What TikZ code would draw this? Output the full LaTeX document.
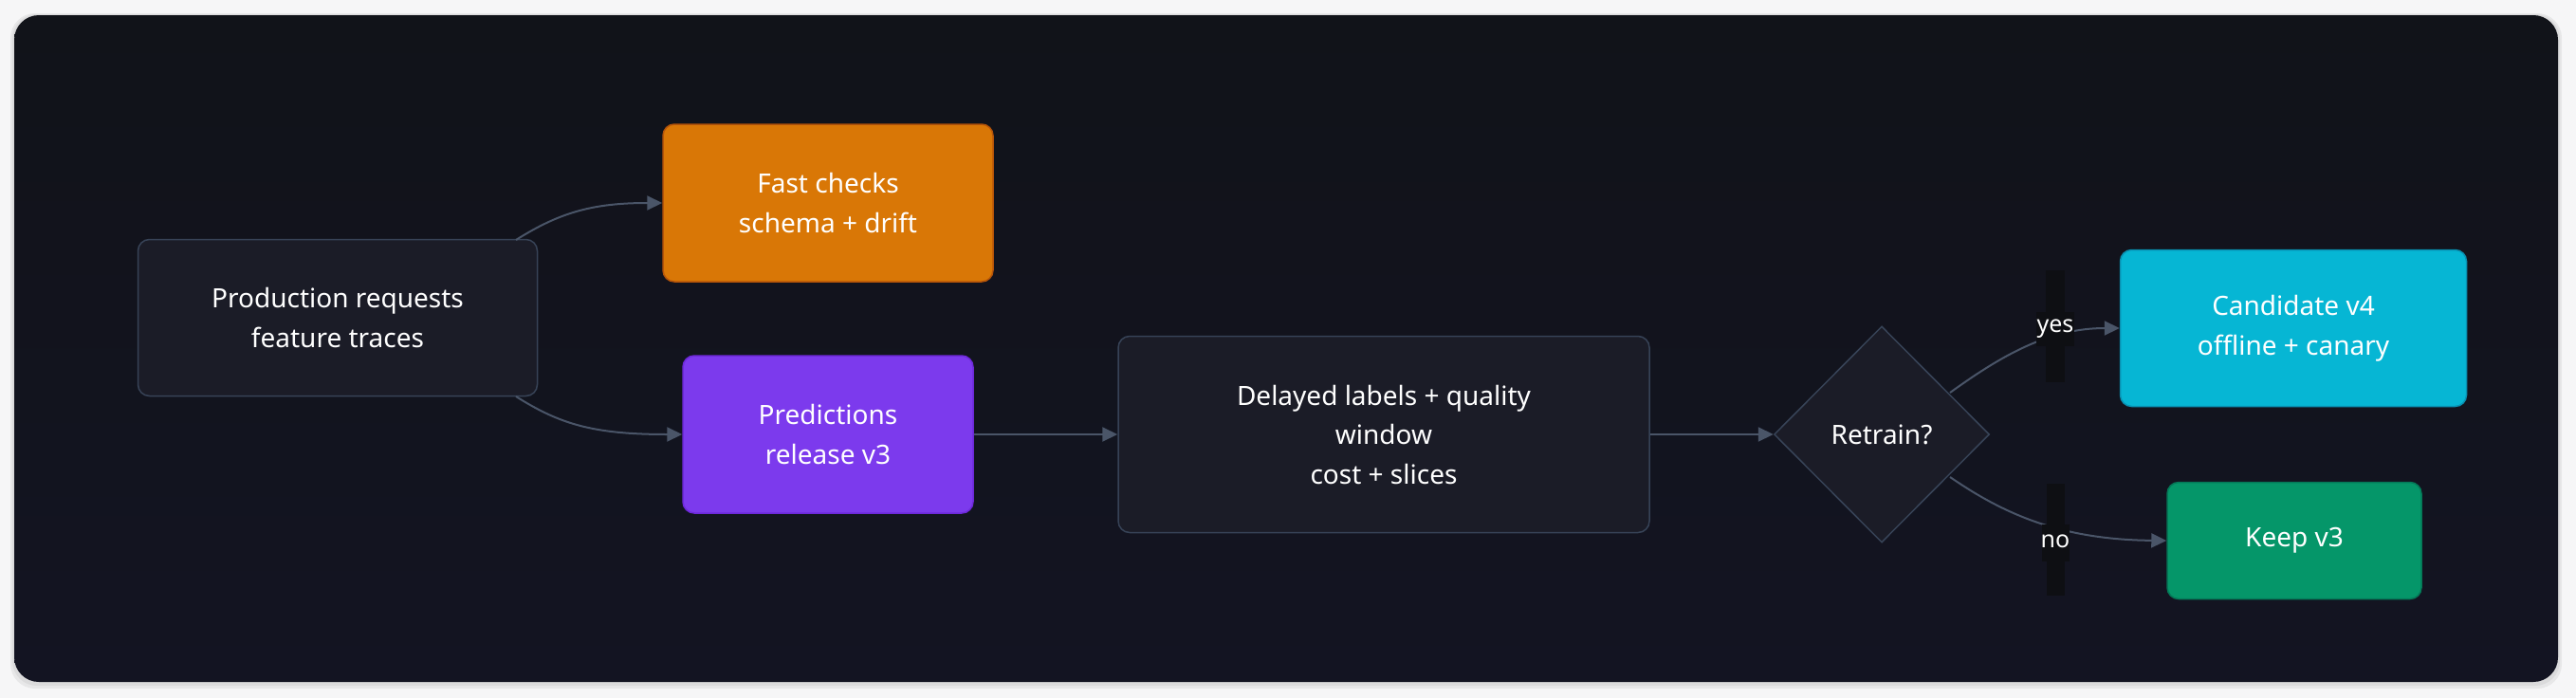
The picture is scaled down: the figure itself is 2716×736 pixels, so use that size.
\documentclass[tikz,border=0pt]{standalone}
\usepackage{fontspec}
\setmainfont{Noto Sans}
\usetikzlibrary{arrows.meta,shapes.geometric,shadows.blur}
\definecolor{outerbg}{HTML}{F6F6F7}
\definecolor{panelbg}{HTML}{111319}
\definecolor{panelbot}{HTML}{131422}
\definecolor{nodebg}{HTML}{1B1C27}
\definecolor{nodeline}{HTML}{374357}
\definecolor{edgecol}{HTML}{4A5568}
\definecolor{orangefill}{HTML}{D97706}
\definecolor{orangeline}{HTML}{B45309}
\definecolor{purplefill}{HTML}{7C3AED}
\definecolor{purpleline}{HTML}{6D28D9}
\definecolor{cyanfill}{HTML}{06B6D4}
\definecolor{cyanline}{HTML}{0891B2}
\definecolor{greenfill}{HTML}{059669}
\definecolor{greenline}{HTML}{047857}
\definecolor{stripcol}{HTML}{0E0F13}
\tikzset{
  box/.style={rectangle, rounded corners=12pt, line width=1.5pt, inner sep=0pt,
    align=center, text=white, font=\fontsize{28}{41.5}\selectfont},
  darkbox/.style={box, fill=nodebg, draw=nodeline},
  decision/.style={diamond, aspect=1, inner sep=0pt, line width=1.5pt,
    fill=nodebg, draw=nodeline, text=white, font=\fontsize{28}{41.5}\selectfont},
  flow/.style={draw=edgecol, line width=2pt, -{Triangle[length=16pt,width=15pt]}},
  edgelabel/.style={text=white, font=\fontsize{25}{28}\selectfont, inner sep=0pt},
}
\begin{document}
\begin{tikzpicture}[x=1pt,y=-1pt]
\useasboundingbox (0,0) rectangle (2716,736);
\fill[outerbg] (0,0) rectangle (2716,736);
\fill[black, opacity=0.06, rounded corners=26pt] (11,14) rectangle (2701,726);
\fill[black, opacity=0.05, rounded corners=26pt] (13,15) rectangle (2699,723);
\shade[top color=panelbg, bottom color=panelbot, rounded corners=26pt] (15,16) rectangle (2697,719);

\node[darkbox, minimum width=421pt, minimum height=165pt] (prod) at (356,335) {Production requests\\feature traces};
\node[box, fill=orangefill, draw=orangeline, minimum width=348pt, minimum height=166pt] (fast) at (873,214) {Fast checks\\schema + drift};
\node[box, fill=purplefill, draw=purpleline, minimum width=306pt, minimum height=166pt] (pred) at (873,458) {Predictions\\release v3};
\node[darkbox, minimum width=560pt, minimum height=207pt] (delay) at (1459,458) {Delayed labels + quality\\window\\cost + slices};
\node[decision, minimum width=227pt, minimum height=228pt] (retrain) at (1984,458) {Retrain?};
\node[box, fill=cyanfill, draw=cyanline, minimum width=365pt, minimum height=165pt] (cand) at (2418,346) {Candidate v4\\offline + canary};
\node[box, fill=greenfill, draw=greenline, minimum width=268pt, minimum height=123pt] (keep) at (2419,570) {Keep v3};

\coordinate (p1) at (544,253);
\coordinate (p2) at (544,418);
\coordinate (r1) at (2056,414);
\coordinate (r2) at (2056,503);

\draw[flow] (p1) .. controls (590,224) and (625,214) .. (fast.west);
\draw[flow] (p2) .. controls (590,447) and (625,458) .. (pred.west);
\draw[flow] (pred.east) -- (delay.west);
\draw[flow] (delay.east) -- (retrain.west);
\draw[flow] (r1) .. controls (2110,375) and (2160,346) .. (cand.west);
\draw[flow] (r2) .. controls (2110,540) and (2170,569) .. (keep.west);

\fill[stripcol] (2157,285) rectangle (2177,403);
\fill[stripcol] (2147,329) rectangle (2187,365);
\node[edgelabel] (yes) at (2167,347) {yes};
\fill[stripcol] (2158,510) rectangle (2177,628);
\fill[stripcol] (2153,553) rectangle (2182,592);
\node[edgelabel] (no) at (2167,571) {no};
\end{tikzpicture}
\end{document}
